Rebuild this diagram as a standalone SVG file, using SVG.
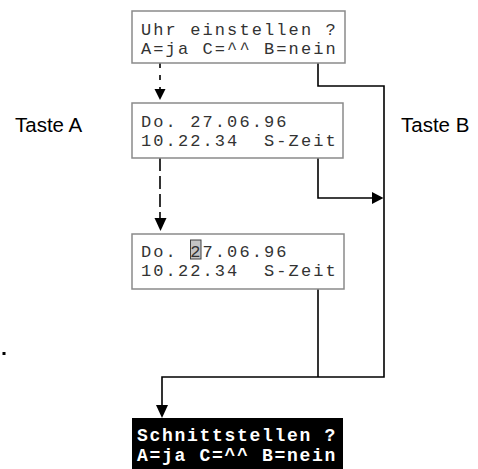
<svg xmlns="http://www.w3.org/2000/svg" width="478" height="469" viewBox="0 0 478 469">
  <style>
    .lcd { fill: #ffffff; stroke: #8a8a8a; stroke-width: 1.5; }
    .mono { font-family: "Liberation Mono", "Courier New", monospace; font-size: 17px; letter-spacing: 2.1px; fill: #333333; white-space: pre; }
    .inv { font-family: "Liberation Mono", "Courier New", monospace; font-size: 18px; letter-spacing: 1.7px; font-weight: bold; fill: #ffffff; white-space: pre; }
    .label { font-family: "Liberation Sans", Arial, sans-serif; font-size: 20.5px; fill: #000000; }
    .wire { fill: none; stroke: #000000; stroke-width: 1.6; }
    .head { fill: #000000; stroke: none; }
  </style>

  <!-- connectors -->
  <g id="connectors">
    <!-- key A path (dashed) -->
    <line class="wire" x1="160" y1="63" x2="160" y2="90" stroke-dasharray="5 7"/>
    <polygon class="head" points="154.5,89 165.5,89 160,100"/>
    <line class="wire" x1="160" y1="158" x2="160" y2="218" stroke-dasharray="13 5"/>
    <polygon class="head" points="154.5,218 166.5,218 160.5,231"/>
    <!-- key B paths -->
    <polyline class="wire" points="318,63 318,86 384,86 384,377 162,377 162,406"/>
    <polygon class="head" points="156,405 168,405 162,418"/>
    <polyline class="wire" points="318,158 318,198 373,198"/>
    <polygon class="head" points="372,192 372,204 383.5,198"/>
    <line class="wire" x1="318" y1="289" x2="318" y2="377"/>
  </g>

  <!-- display: set clock -->
  <g id="node-uhr">
    <rect class="lcd" x="132" y="11" width="213" height="52"/>
    <text class="mono" x="141" y="34.5">Uhr einstellen ?</text>
    <text class="mono" x="141" y="53.5">A=ja C=^^ B=nein</text>
  </g>

  <!-- display: date and time -->
  <g id="node-datum">
    <rect class="lcd" x="132" y="103" width="211" height="55"/>
    <text class="mono" x="141" y="126.5">Do. 27.06.96</text>
    <text class="mono" x="141" y="145.5" xml:space="preserve">10.22.34  S-Zeit</text>
  </g>

  <!-- display: date editing with cursor -->
  <g id="node-edit">
    <rect class="lcd" x="132" y="234" width="212" height="55"/>
    <rect x="190.5" y="240" width="10.5" height="19" fill="#c4c4c4" stroke="#404040" stroke-width="1"/>
    <text class="mono" x="141" y="256.5">Do. 27.06.96</text>
    <text class="mono" x="141" y="275.5" xml:space="preserve">10.22.34  S-Zeit</text>
  </g>

  <!-- display: interfaces (inverted) -->
  <g id="node-schnitt">
    <rect x="132" y="418" width="211" height="51" fill="#000000"/>
    <text class="inv" x="137" y="441">Schnittstellen ?</text>
    <text class="inv" x="137" y="461">A=ja C=^^ B=nein</text>
  </g>

  <!-- key labels -->
  <g id="label-a">
    <text class="label" x="15" y="132">Taste A</text>
  </g>
  <g id="label-b">
    <text class="label" x="401" y="132">Taste B</text>
  </g>

  <!-- small mark -->
  <rect x="2.5" y="352" width="3" height="3" fill="#000000"/>
</svg>
